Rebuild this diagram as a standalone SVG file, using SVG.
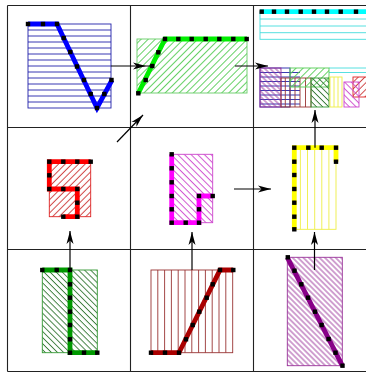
<svg xmlns="http://www.w3.org/2000/svg" width="366" height="373" viewBox="0 0 366 373">
<style>
.grid{stroke:#222;stroke-width:1.1;fill:none}
.conn{stroke:#000;stroke-width:1.2;fill:none}
.thin{stroke-width:0.9}
.thick{fill:none;stroke-width:4.8}
</style>
<defs>
<marker id="ah" markerUnits="userSpaceOnUse" markerWidth="14" markerHeight="8" viewBox="0 0 14 8" refX="13" refY="4" orient="auto"><path d="M0,0.5 L13,4 L0,7.5 L3.5,4 z" fill="#000"/></marker>
<rect id="d" x="-2.2" y="-2.2" width="4.4" height="4.4" fill="#000"/>
<pattern id="hgl" patternUnits="userSpaceOnUse" width="5" height="5" patternTransform="rotate(45)"><line x1="2.5" y1="0" x2="2.5" y2="5" stroke="#55cc55" stroke-width="0.9"/></pattern>
<pattern id="hred" patternUnits="userSpaceOnUse" width="4.7" height="4.7" patternTransform="rotate(45)"><line x1="2.3" y1="0" x2="2.3" y2="4.7" stroke="#cc3333" stroke-width="0.9"/></pattern>
<pattern id="hmag" patternUnits="userSpaceOnUse" width="4.7" height="4.7" patternTransform="rotate(-45)"><line x1="2.3" y1="0" x2="2.3" y2="4.7" stroke="#cc44cc" stroke-width="0.9"/></pattern>
<pattern id="hgd" patternUnits="userSpaceOnUse" width="4.3" height="4.3" patternTransform="rotate(-45)"><line x1="2.1" y1="0" x2="2.1" y2="4.3" stroke="#337733" stroke-width="0.9"/></pattern>
<pattern id="hpur" patternUnits="userSpaceOnUse" width="3.8" height="3.8" patternTransform="rotate(-45)"><line x1="1.9" y1="0" x2="1.9" y2="3.8" stroke="#993399" stroke-width="0.9"/></pattern>
</defs>
<rect width="366" height="373" fill="#fff"/>
<g id="grid" class="grid">
<path d="M7.5,5.5 H380 M7.5,127.5 H380 M7.5,249.5 H380 M7.5,371.5 H380 M7.5,5.5 V371.5 M130.5,5.5 V371.5 M253.5,5.5 V371.5"/>
</g>

<g id="n00">
<rect x="28" y="24" width="83" height="84" fill="none" stroke="#2222aa" class="thin"/>
<path d="M28,30H111M28,36H111M28,42H111M28,48H111M28,54H111M28,60H111M28,66H111M28,72H111M28,78H111M28,84H111M28,90H111M28,96H111M28,102H111" stroke="#2222aa" class="thin"/>
<polyline class="thick" points="28,24 57,24 97,108 112,80" stroke="#0000ff"/>
<use href="#d" x="28" y="24"/><use href="#d" x="43" y="24"/><use href="#d" x="57" y="24"/><use href="#d" x="63.7" y="38"/><use href="#d" x="70.3" y="52"/><use href="#d" x="77" y="66.5"/><use href="#d" x="84" y="80"/><use href="#d" x="90.7" y="94"/><use href="#d" x="97" y="108"/><use href="#d" x="104.3" y="94"/><use href="#d" x="111.5" y="80"/>
</g>

<g id="n01">
<rect x="137" y="39" width="110" height="54" fill="url(#hgl)" stroke="#66cc66" class="thin"/>
<polyline class="thick" points="138.3,93.3 165,39 247,39" stroke="#00ee00"/>
<use href="#d" x="138.3" y="93.3"/><use href="#d" x="145.7" y="80"/><use href="#d" x="152.3" y="66"/><use href="#d" x="158.3" y="52.3"/><use href="#d" x="165" y="39"/><use href="#d" x="178.3" y="39"/><use href="#d" x="191.7" y="39"/><use href="#d" x="205.7" y="39"/><use href="#d" x="219.3" y="39"/><use href="#d" x="233.3" y="39"/><use href="#d" x="246.7" y="39"/>
</g>

<g id="n02">
<rect x="260" y="11.7" width="120" height="27.6" fill="none" stroke="#44dddd" class="thin"/>
<path d="M260,19H380M260,26H380M260,32.7H380" stroke="#44dddd" class="thin"/>
<line x1="260" y1="11.7" x2="370" y2="11.7" stroke="#00ffff" class="thick"/>
<use href="#d" x="261.7" y="11.7"/><use href="#d" x="274" y="11.7"/><use href="#d" x="287" y="11.7"/><use href="#d" x="300.7" y="11.7"/><use href="#d" x="314" y="11.7"/><use href="#d" x="327" y="11.7"/><use href="#d" x="340.7" y="11.7"/><use href="#d" x="356" y="11.7"/>
<path d="M329,68H380M329,72.5H380" stroke="#44dddd" class="thin"/>
<rect x="260" y="68" width="30" height="39" fill="none" stroke="#2222aa" class="thin"/>
<path d="M260,72.5H300M260,77H300M260,81.5H300M260,86H300M260,90.5H300M260,95H300M260,99.5H300M260,104H300" stroke="#2222aa" class="thin"/>
<rect x="260" y="68" width="21" height="39" fill="url(#hpur)" stroke="#993399" class="thin"/>
<rect x="281" y="78" width="30" height="29" fill="none" stroke="#993333" class="thin"/>
<path d="M285.3,78V107M290,78V107M295,78V107M300,78V107M305.5,78V107" stroke="#993333" class="thin"/>
<rect x="290" y="68" width="39" height="19" fill="url(#hgl)" stroke="#55cc55" class="thin"/>
<rect x="311" y="78" width="18" height="29" fill="url(#hgd)" stroke="#339933" class="thin"/>
<rect x="330" y="77" width="12" height="30" fill="none" stroke="#eeee44" class="thin"/>
<path d="M334,77V107M338,77V107" stroke="#eeee44" class="thin"/>
<rect x="353" y="77" width="20" height="20" fill="url(#hred)" stroke="#dd2222" class="thin"/>
<rect x="344" y="82" width="15" height="25" fill="url(#hmag)" stroke="#cc44cc" class="thin"/>
</g>

<g id="n10">
<rect x="49.3" y="161.7" width="41.4" height="55" fill="url(#hred)" stroke="#dd2222" class="thin"/>
<polyline class="thick" points="90.7,161.7 49.3,161.7 49.3,189 77.3,189 77.3,216.7 63.3,216.7" stroke="#ff0000"/>
<use href="#d" x="49.3" y="161.7"/><use href="#d" x="63.3" y="161.7"/><use href="#d" x="77.3" y="161.7"/><use href="#d" x="90.7" y="161.7"/><use href="#d" x="49.3" y="175.3"/><use href="#d" x="49.3" y="189"/><use href="#d" x="63.3" y="189"/><use href="#d" x="77.3" y="189"/><use href="#d" x="77.3" y="202.7"/><use href="#d" x="77.3" y="216.7"/><use href="#d" x="63.3" y="216.7"/>
</g>

<g id="n11">
<rect x="171.7" y="154.3" width="41" height="68.4" fill="url(#hmag)" stroke="#cc44cc" class="thin"/>
<polyline class="thick" points="171.7,154.3 171.7,222.7 199,222.7 199,196 212.7,196" stroke="#ff00ff"/>
<use href="#d" x="171.7" y="154.3"/><use href="#d" x="171.7" y="168.3"/><use href="#d" x="171.7" y="182.3"/><use href="#d" x="171.7" y="196"/><use href="#d" x="171.7" y="209.3"/><use href="#d" x="171.7" y="222.7"/><use href="#d" x="185.7" y="222.7"/><use href="#d" x="199" y="222.7"/><use href="#d" x="199" y="209.3"/><use href="#d" x="199" y="196"/><use href="#d" x="212.7" y="196"/>
</g>

<g id="n12">
<rect x="293.3" y="147.7" width="42.7" height="81.6" fill="none" stroke="#eeee44" class="thin"/>
<path d="M300.4,147.7V229.3M307.5,147.7V229.3M314.7,147.7V229.3M321.8,147.7V229.3M328.9,147.7V229.3" stroke="#eeee44" class="thin"/>
<polyline class="thick" points="336,161.7 336,147.7 294.3,147.7 294.3,229.3" stroke="#ffff00"/>
<use href="#d" x="336" y="161.7"/><use href="#d" x="336" y="147.7"/><use href="#d" x="321.7" y="147.7"/><use href="#d" x="308.3" y="147.7"/><use href="#d" x="294.3" y="147.7"/><use href="#d" x="294.3" y="161.7"/><use href="#d" x="294.3" y="175"/><use href="#d" x="294.3" y="189"/><use href="#d" x="294.3" y="202.7"/><use href="#d" x="294.3" y="216.7"/><use href="#d" x="294.3" y="229.3"/>
</g>

<g id="n20">
<rect x="42.3" y="270" width="55" height="82.7" fill="url(#hgd)" stroke="#339933" class="thin"/>
<polyline class="thick" points="42.3,270 70,270 70,352.7 97.3,352.7" stroke="#009900"/>
<use href="#d" x="42.3" y="270"/><use href="#d" x="56.7" y="270"/><use href="#d" x="70" y="270"/><use href="#d" x="70" y="284.3"/><use href="#d" x="70" y="297.7"/><use href="#d" x="70" y="311.7"/><use href="#d" x="70" y="325"/><use href="#d" x="70" y="339.3"/><use href="#d" x="70" y="352.7"/><use href="#d" x="84" y="352.7"/><use href="#d" x="97.3" y="352.7"/>
</g>

<g id="n21">
<rect x="151" y="270" width="81.7" height="82.7" fill="none" stroke="#993333" class="thin"/>
<path d="M157.8,270V352.7M164.6,270V352.7M171.4,270V352.7M178.2,270V352.7M185,270V352.7M191.8,270V352.7M198.6,270V352.7M205.4,270V352.7M212.2,270V352.7M219,270V352.7M225.8,270V352.7" stroke="#993333" class="thin"/>
<polyline class="thick" points="151,352.7 179,352.7 220,270 233.3,270" stroke="#aa0000"/>
<use href="#d" x="151" y="352.7"/><use href="#d" x="165" y="352.7"/><use href="#d" x="179" y="352.7"/><use href="#d" x="186" y="339.3"/><use href="#d" x="192.7" y="325"/><use href="#d" x="199.3" y="311.7"/><use href="#d" x="206.7" y="297.7"/><use href="#d" x="212.7" y="284.3"/><use href="#d" x="220" y="270"/><use href="#d" x="233.3" y="270"/>
</g>

<g id="n22">
<rect x="287.3" y="257.3" width="55" height="108.4" fill="url(#hpur)" stroke="#993399" class="thin"/>
<line x1="287.3" y1="257.3" x2="342.3" y2="365.7" stroke="#880088" class="thick"/>
<use href="#d" x="287.8" y="257.3"/><use href="#d" x="294.5" y="270.7"/><use href="#d" x="301.3" y="284.3"/><use href="#d" x="308" y="297.7"/><use href="#d" x="315" y="311.7"/><use href="#d" x="321.6" y="325"/><use href="#d" x="328.6" y="339"/><use href="#d" x="335.5" y="352.7"/><use href="#d" x="342.5" y="365.7"/>
</g>

<g id="connectors" class="conn">
<polyline points="111,66 146,66 152,66" marker-mid="url(#ah)"/>
<line x1="235" y1="66" x2="268" y2="66" marker-end="url(#ah)"/>
<line x1="234" y1="189" x2="271" y2="189" marker-end="url(#ah)"/>
<line x1="70" y1="270" x2="70" y2="231" marker-end="url(#ah)"/>
<line x1="192" y1="270" x2="192" y2="232" marker-end="url(#ah)"/>
<line x1="314.5" y1="270" x2="314.5" y2="232" marker-end="url(#ah)"/>
<line x1="315" y1="147.7" x2="315" y2="110" marker-end="url(#ah)"/>
<line x1="117" y1="142" x2="143" y2="115" marker-end="url(#ah)"/>
</g>
</svg>
